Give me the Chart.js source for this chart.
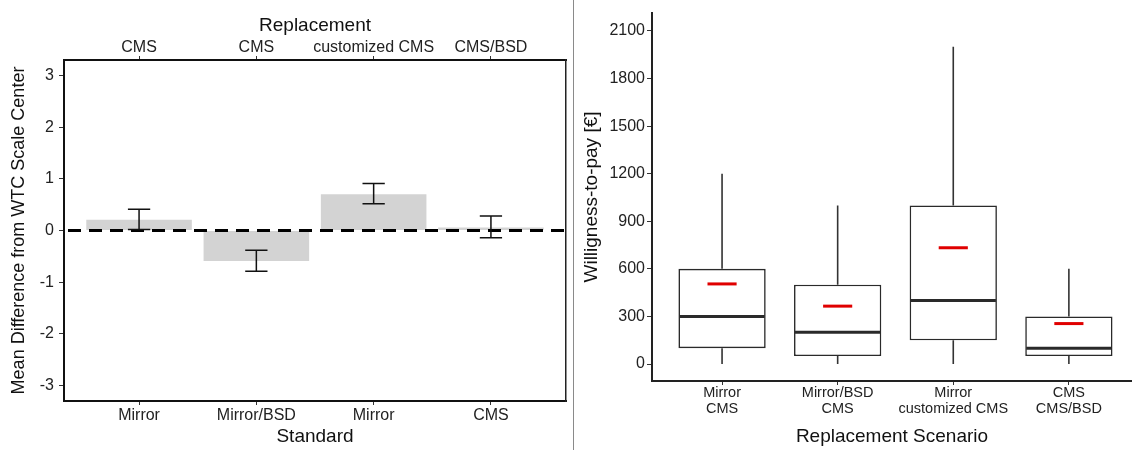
<!DOCTYPE html>
<html><head><meta charset="utf-8">
<script src="https://cdn.jsdelivr.net/npm/chart.js@4.4.1/dist/chart.umd.min.js"></script>
<style>
html,body{margin:0;padding:0;background:#fff;}
#wrap{position:relative;width:1132px;height:450px;overflow:hidden;background:#fff;}
#left{position:absolute;left:0;top:0;width:572px;height:450px;}
#right{position:absolute;left:575px;top:0;width:557px;height:450px;}
#divider{position:absolute;left:573px;top:0;width:1px;height:450px;background:#8a8a8a;}
</style></head><body>
<div id="wrap">
<div id="left"><canvas id="c1" width="572" height="450"></canvas></div>
<div id="divider"></div>
<div id="right"><canvas id="c2" width="557" height="450"></canvas></div>
</div>
<script>
// ---- Left panel data ----
const standardLabels = ['Mirror', 'Mirror/BSD', 'Mirror', 'CMS'];
const replacementLabels = ['CMS', 'CMS', 'customized CMS', 'CMS/BSD'];
const meanDiff = [0.21, -0.59, 0.70, 0.06];
const ciLow = [0.02, -0.79, 0.52, -0.14];
const ciHigh = [0.41, -0.38, 0.91, 0.28];
const leftYTicks = [-3, -2, -1, 0, 1, 2, 3];

// ---- Right panel data ----
const scenarioLabels = [['Mirror', 'CMS'], ['Mirror/BSD', 'CMS'], ['Mirror', 'customized CMS'], ['CMS', 'CMS/BSD']];
const wtpMin = [0, 0, 0, 0];
const wtpQ1 = [100, 50, 150, 50];
const wtpMedian = [300, 200, 400, 100];
const wtpQ3 = [600, 500, 1000, 300];
const wtpMax = [1200, 1000, 2000, 600];
const wtpMean = [505, 365, 733, 255];
const rightYTicks = [0, 300, 600, 900, 1200, 1500, 1800, 2100];

const positions = [1, 2, 3, 4];

Chart.defaults.font.family = "'Liberation Sans', Arial, sans-serif";
Chart.defaults.color = '#222';

const setTicks = arr => (s => { s.ticks = arr.map(v => ({ value: v })); });

const leftOverlay = {
  id: 'leftOverlay',
  afterDatasetsDraw(chart) {
    const { ctx, chartArea: a } = chart;
    const x = chart.scales.x, y = chart.scales.y;
    ctx.save();
    const y0 = y.getPixelForValue(0);
    ctx.setLineDash([13, 8]);
    ctx.lineDashOffset = -4;
    ctx.lineWidth = 3;
    ctx.strokeStyle = '#000';
    ctx.beginPath(); ctx.moveTo(a.left, y0); ctx.lineTo(a.right, y0); ctx.stroke();
    ctx.setLineDash([]);
    const half = (x.getPixelForValue(2) - x.getPixelForValue(1)) * 0.095;
    ctx.lineWidth = 1.5;
    ctx.strokeStyle = '#111';
    positions.forEach((p, i) => {
      const cx = x.getPixelForValue(p);
      const yl = y.getPixelForValue(ciLow[i]);
      const yh = y.getPixelForValue(ciHigh[i]);
      ctx.beginPath();
      ctx.moveTo(cx, yl); ctx.lineTo(cx, yh);
      ctx.moveTo(cx - half, yl); ctx.lineTo(cx + half, yl);
      ctx.moveTo(cx - half, yh); ctx.lineTo(cx + half, yh);
      ctx.stroke();
    });
    ctx.restore();
  }
};

new Chart(document.getElementById('c1'), {
  type: 'bar',
  data: {
    datasets: [{
      data: positions.map((p, i) => ({ x: p, y: meanDiff[i] })),
      backgroundColor: '#d3d3d3',
      borderWidth: 0,
      barPercentage: 0.9,
      categoryPercentage: 1,
      xAxisID: 'x', yAxisID: 'y'
    }]
  },
  options: {
    responsive: false, animation: false,
    layout: { padding: 0 },
    plugins: { legend: { display: false }, tooltip: { enabled: false } },
    scales: {
      x: {
        type: 'linear', position: 'bottom', min: 0.36, max: 4.64, offset: false,
        afterBuildTicks: setTicks(positions),
        ticks: { callback: (v, i) => standardLabels[i], font: { size: 16, lineHeight: 1 }, color: '#222', padding: 3, autoSkip: false, maxRotation: 0 },
        grid: { display: true, offset: false, drawOnChartArea: false, tickLength: 4, color: '#333' },
        border: { display: true, color: '#111', width: 2 },
        title: { display: true, text: 'Standard', font: { size: 19 }, color: '#111', padding: { top: 0, bottom: 2 } },
        afterFit: s => { s.height = 49; }
      },
      xTop: {
        type: 'linear', position: 'top', min: 0.36, max: 4.64, offset: false,
        afterBuildTicks: setTicks(positions),
        ticks: { callback: (v, i) => replacementLabels[i], font: { size: 16, lineHeight: 1 }, color: '#222', padding: 0, autoSkip: false, maxRotation: 0 },
        grid: { display: true, offset: false, drawOnChartArea: false, tickLength: 4, color: '#333' },
        border: { display: true, color: '#111', width: 2 },
        title: { display: true, text: 'Replacement', font: { size: 19 }, color: '#111', padding: { top: 14, bottom: 0 } },
        afterFit: s => { s.height = 60; }
      },
      y: {
        type: 'linear', position: 'left', min: -3.3, max: 3.3,
        afterBuildTicks: setTicks(leftYTicks),
        ticks: { callback: v => String(v), font: { size: 16 }, color: '#222', padding: 5 },
        grid: { display: true, drawOnChartArea: false, tickLength: 5, color: '#333' },
        border: { display: true, color: '#111', width: 2 },
        title: { display: true, text: 'Mean Difference from WTC Scale Center', font: { size: 18 }, color: '#111', padding: { top: 8, bottom: 0 } },
        afterFit: s => { s.width = 64; }
      },
      yRight: {
        type: 'linear', position: 'right', min: 0, max: 1,
        ticks: { display: false },
        grid: { display: false },
        border: { display: true, color: '#222', width: 1.5 },
        afterFit: s => { s.width = 6; }
      }
    }
  },
  plugins: [leftOverlay]
});

const boxOverlay = {
  id: 'boxOverlay',
  afterDatasetsDraw(chart) {
    const { ctx } = chart;
    const x = chart.scales.x, y = chart.scales.y;
    const step = x.getPixelForValue(2) - x.getPixelForValue(1);
    const boxHalf = step * 0.755 / 2;
    const meanHalf = step * 0.126;
    ctx.save();
    positions.forEach((p, i) => {
      const cx = x.getPixelForValue(p);
      ctx.strokeStyle = '#333';
      ctx.lineWidth = 1.6;
      ctx.beginPath();
      ctx.moveTo(cx, y.getPixelForValue(wtpQ3[i])); ctx.lineTo(cx, y.getPixelForValue(wtpMax[i]));
      ctx.moveTo(cx, y.getPixelForValue(wtpQ1[i])); ctx.lineTo(cx, y.getPixelForValue(wtpMin[i]));
      ctx.stroke();
      ctx.strokeStyle = '#2a2a2a';
      ctx.lineWidth = 3;
      const ym = y.getPixelForValue(wtpMedian[i]);
      ctx.beginPath(); ctx.moveTo(cx - boxHalf + 1, ym); ctx.lineTo(cx + boxHalf - 1, ym); ctx.stroke();
      ctx.strokeStyle = '#e00000';
      ctx.lineWidth = 3;
      const ymean = y.getPixelForValue(wtpMean[i]);
      ctx.beginPath(); ctx.moveTo(cx - meanHalf, ymean); ctx.lineTo(cx + meanHalf, ymean); ctx.stroke();
    });
    ctx.restore();
  }
};

new Chart(document.getElementById('c2'), {
  type: 'bar',
  data: {
    datasets: [{
      data: positions.map((p, i) => ({ x: p, y: [wtpQ1[i], wtpQ3[i]] })),
      backgroundColor: '#ffffff',
      borderColor: '#2a2a2a',
      borderWidth: 1.6,
      borderSkipped: false,
      barPercentage: 0.755,
      categoryPercentage: 1
    }]
  },
  options: {
    responsive: false, animation: false,
    layout: { padding: { top: 13, right: 0, left: 0, bottom: 0 } },
    plugins: { legend: { display: false }, tooltip: { enabled: false } },
    scales: {
      x: {
        type: 'linear', position: 'bottom', min: 0.394, max: 4.546, offset: false,
        afterBuildTicks: setTicks(positions),
        ticks: { callback: (v, i) => scenarioLabels[i], font: { size: 14.5, lineHeight: 1.1 }, color: '#222', padding: 0, autoSkip: false, maxRotation: 0 },
        grid: { display: true, offset: false, drawOnChartArea: false, tickLength: 4, color: '#333' },
        border: { display: true, color: '#222', width: 2 },
        title: { display: true, text: 'Replacement Scenario', font: { size: 19 }, color: '#111', padding: { top: 0, bottom: 2 } },
        afterFit: s => { s.height = 69; }
      },
      y: {
        type: 'linear', position: 'left', min: -107, max: 2213,
        afterBuildTicks: setTicks(rightYTicks),
        ticks: { callback: v => String(v), font: { size: 16 }, color: '#222', padding: 2 },
        grid: { display: true, drawOnChartArea: false, tickLength: 5, color: '#333' },
        border: { display: true, color: '#222', width: 2 },
        title: { display: true, text: 'Willigness-to-pay [€]', font: { size: 19 }, color: '#111', padding: { top: 5.5, bottom: 0 } },
        afterFit: s => { s.width = 77; }
      }
    }
  },
  plugins: [boxOverlay]
});
</script>
</body></html>
